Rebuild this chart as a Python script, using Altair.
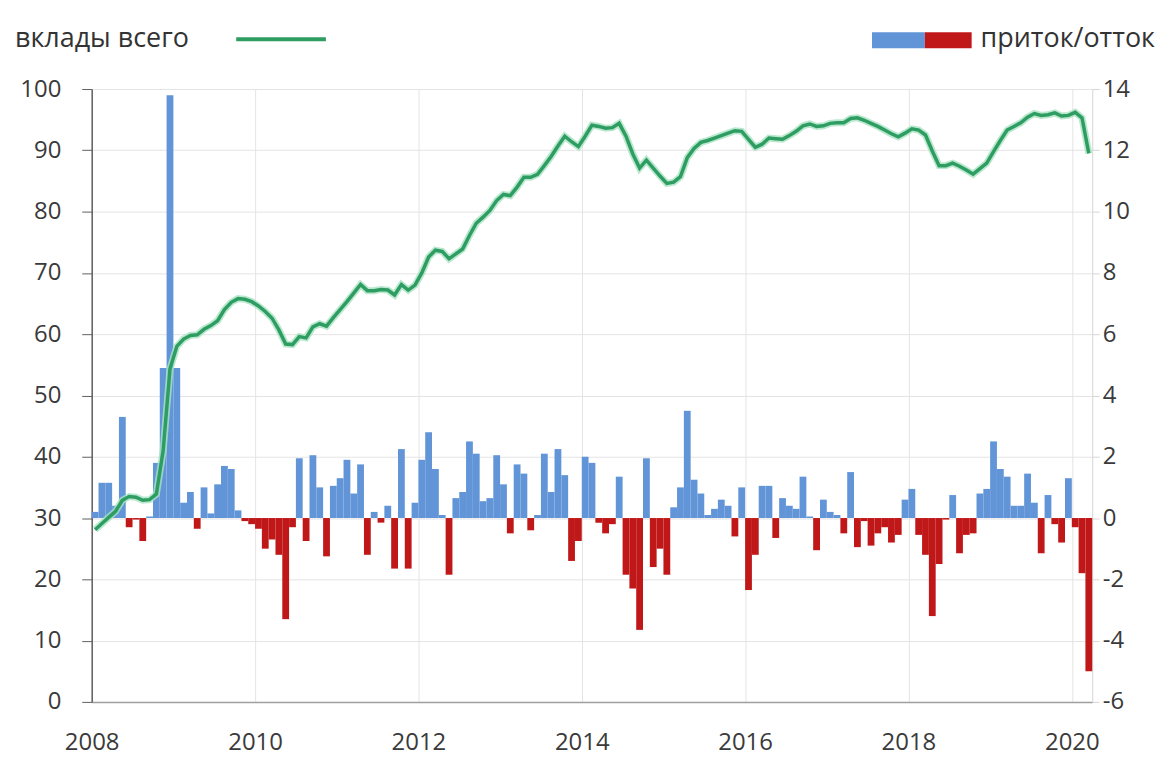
import altair as alt
import pandas as pd

# ---- data ----
months = pd.period_range("2008-01", "2020-03", freq="M").strftime("%Y-%m").tolist()

# monthly inflow / outflow (right axis)
flows = [
    0.2, 1.15, 1.15, 0.4, 3.3, -0.3, -0.05, -0.75, 0.05, 1.8,
    4.9, 13.8, 4.9, 0.5, 0.85, -0.35, 1.0, 0.15, 1.1, 1.7,
    1.6, 0.25, -0.1, -0.2, -0.35, -1.0, -0.7, -1.2, -3.3, -0.3,
    1.95, -0.75, 2.05, 1.0, -1.25, 1.05, 1.3, 1.9, 0.8, 1.75,
    -1.2, 0.2, -0.15, 0.4, -1.65, 2.25, -1.65, 0.5, 1.9, 2.8,
    1.6, 0.1, -1.85, 0.65, 0.85, 2.5, 2.1, 0.55, 0.65, 2.05,
    1.1, -0.5, 1.75, 1.45, -0.4, 0.1, 2.1, 0.85, 2.25, 1.4,
    -1.4, -0.75, 2.0, 1.8, -0.15, -0.5, -0.2, 1.35, -1.85, -2.3,
    -3.65, 1.95, -1.6, -1.0, -1.85, 0.35, 1.0, 3.5, 1.25, 0.8,
    0.1, 0.3, 0.6, 0.4, -0.6, 1.0, -2.35, -1.2, 1.05, 1.05,
    -0.65, 0.65, 0.4, 0.3, 1.35, 0.05, -1.05, 0.6, 0.2, 0.1,
    -0.5, 1.5, -0.95, -0.1, -0.9, -0.5, -0.3, -0.8, -0.55, 0.6,
    0.95, -0.55, -1.2, -3.2, -1.5, -0.05, 0.75, -1.15, -0.55, -0.5,
    0.8, 0.95, 2.5, 1.6, 1.35, 0.4, 0.4, 1.45, 0.5, -1.15,
    0.75, -0.2, -0.8, 1.3, -0.3, -1.8, -5.0,
]

# total deposits (left axis)
deposits = [
    28.1, 29.1, 30.1, 31.1, 32.9, 33.5, 33.4, 32.9, 33.0, 33.9,
    41.0, 54.3, 58.0, 59.2, 59.8, 59.9, 60.8, 61.4, 62.2, 64.0,
    65.2, 65.8, 65.7, 65.3, 64.6, 63.7, 62.6, 60.7, 58.4, 58.3,
    59.6, 59.4, 61.2, 61.7, 61.3, 62.7, 64.0, 65.3, 66.7, 68.1,
    67.1, 67.1, 67.3, 67.2, 66.4, 68.1, 67.2, 68.0, 70.0, 72.6,
    73.7, 73.5, 72.3, 73.1, 73.9, 76.1, 78.1, 79.1, 80.2, 81.8,
    82.8, 82.6, 84.0, 85.6, 85.6, 86.1, 87.5, 89.0, 90.7, 92.3,
    91.4, 90.6, 92.3, 94.1, 93.9, 93.6, 93.7, 94.4, 92.3, 89.4,
    87.1, 88.4, 87.1, 85.8, 84.6, 84.8, 85.7, 88.8, 90.3, 91.3,
    91.6, 92.0, 92.4, 92.8, 93.2, 93.1, 91.8, 90.5, 91.0, 92.0,
    91.9, 91.8, 92.4, 93.1, 94.0, 94.3, 93.9, 94.0, 94.4, 94.5,
    94.5, 95.2, 95.3, 94.9, 94.4, 93.9, 93.3, 92.7, 92.2, 92.8,
    93.5, 93.3, 92.5, 89.9, 87.5, 87.5, 87.9, 87.4, 86.8, 86.1,
    87.0, 87.9, 89.8, 91.6, 93.3, 93.9, 94.5, 95.4, 96.0, 95.7,
    95.8, 96.1, 95.6, 95.7, 96.2, 95.3, 89.5,
]

x_ticks = [2008, 2010, 2012, 2014, 2016, 2018, 2020]
left_ticks = list(range(0, 101, 10))
right_ticks = list(range(-6, 15, 2))

label_line = "вклады всего"
label_bars = "приток/отток"

# ---- build table ----
rows = []
for m, f, d in zip(months, flows, deposits):
    y, mo = int(m[:4]), int(m[5:])
    t0 = y + (mo - 1) / 12
    rows.append({"month": m, "t0": t0, "t1": t0 + 1 / 12, "tm": t0 + 0.5 / 12,
                 "flow": f, "dep": d})
df = pd.DataFrame(rows)

BLUE = "#6195d8"
RED = "#c01818"
GREEN = "#2e9d62"
HALO = "#a9e2c3"
FONT = "Open Sans"
LBL = "#3a3a3a"
AX_FS = 24

x_scale = alt.Scale(domain=[2008, 2020.25], nice=False, zero=False)
x_axis = alt.Axis(values=x_ticks, format="d", grid=True, gridColor="#e4e4e4",
                  domainColor="#a0a0a0", domainWidth=1.5, ticks=False, labelFlush=False,
                  labelPadding=29, labelFontSize=AX_FS, labelColor=LBL, labelFont=FONT,
                  title=None)

left_axis = alt.Axis(orient="left", values=left_ticks, grid=True, gridColor="#e4e4e4",
                     domainColor="#606060", domainWidth=1.5, tickColor="#606060",
                     tickSize=10, labelPadding=21, labelFontSize=AX_FS, labelColor=LBL,
                     labelFont=FONT, title=None)
right_axis = alt.Axis(orient="right", values=right_ticks, grid=False,
                      domainColor="#d6d6d6", tickColor="#d6d6d6", tickSize=7,
                      labelPadding=3, labelFontSize=AX_FS, labelColor=LBL,
                      labelFont=FONT, title=None,
                      labelExpr="'' + datum.value")

base = alt.Chart(df)

bars = base.mark_bar().encode(
    x=alt.X("t0:Q", scale=x_scale, axis=x_axis),
    x2="t1:Q",
    y=alt.Y("flow:Q", scale=alt.Scale(domain=[-6, 14], nice=False), axis=right_axis),
    y2=alt.datum(0),
    color=alt.condition(alt.datum.flow > 0, alt.value(BLUE), alt.value(RED)),
)

dep_y = alt.Y("dep:Q", scale=alt.Scale(domain=[0, 100], nice=False), axis=left_axis)
halo = base.mark_line(color=HALO, strokeWidth=7, opacity=0.8).encode(
    x=alt.X("tm:Q", scale=x_scale, axis=x_axis), y=dep_y)
line = base.mark_line(color=GREEN, strokeWidth=3.5).encode(
    x=alt.X("tm:Q", scale=x_scale, axis=x_axis), y=dep_y)
lines = alt.layer(halo, line)

one = pd.DataFrame({"a": [0]})
leg_text1 = alt.Chart(one).mark_text(align="left", baseline="middle", fontSize=27,
                                     font=FONT, color="#333333").encode(
    x=alt.value(-77), y=alt.value(-50), text=alt.value(label_line))
leg_line = alt.Chart(one).mark_rule(color=GREEN, strokeWidth=4).encode(
    x=alt.value(145), x2=alt.value(235), y=alt.value(-50))
leg_blue = alt.Chart(one).mark_rect(color=BLUE).encode(
    x=alt.value(783), x2=alt.value(836), y=alt.value(-57), y2=alt.value(-41))
leg_red = alt.Chart(one).mark_rect(color=RED).encode(
    x=alt.value(836), x2=alt.value(883), y=alt.value(-57), y2=alt.value(-41))
leg_text2 = alt.Chart(one).mark_text(align="left", baseline="middle", fontSize=27,
                                     font=FONT, color="#333333").encode(
    x=alt.value(892), y=alt.value(-50), text=alt.value(label_bars))

chart = alt.layer(bars, lines, leg_text1, leg_line, leg_blue, leg_red, leg_text2).resolve_scale(
    y="independent"
).properties(
    width=1004, height=615,
    padding={"left": 84, "top": 80, "right": 65, "bottom": 57},
    autosize=alt.AutoSizeParams(type="none"),
    background="white",
).configure_view(stroke=None)

chart.save("out.html", embed_options={"renderer": "svg", "actions": False})
